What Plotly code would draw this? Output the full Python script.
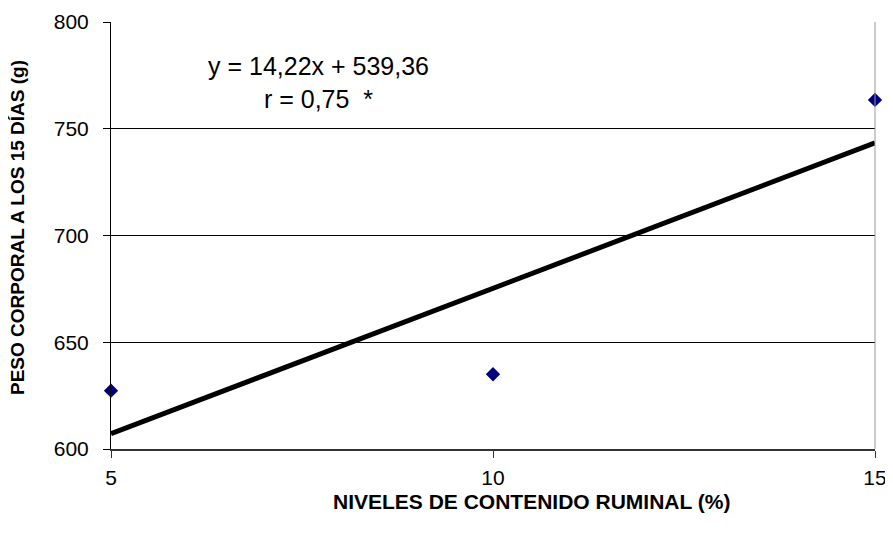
import numpy as np
import plotly.graph_objects as go

niveles = [5, 10, 15]
peso = [627.3, 635.0, 763.5]
x_ticks = [5, 10, 15]
y_ticks = [600, 650, 700, 750, 800]
equation_text = "y = 14,22x + 539,36<br>r = 0,75\u00a0\u00a0*"
x_title = "NIVELES DE CONTENIDO RUMINAL (%)"
y_title = "PESO CORPORAL A LOS 15 DÍAS (g)"

slope, intercept = np.polyfit(niveles, peso, 1)
trend_x = [min(niveles), max(niveles)]
trend_y = [slope * v + intercept for v in trend_x]

fig = go.Figure()
fig.add_trace(go.Scatter(x=trend_x, y=trend_y, mode="lines",
                         line=dict(color="black", width=5), hoverinfo="skip"))
fig.add_trace(go.Scatter(x=niveles, y=peso, mode="markers",
                         marker=dict(symbol="diamond", size=11, color="#000080"),
                         cliponaxis=False))

font = "Liberation Sans, Arial, sans-serif"
fig.update_layout(
    width=885, height=530,
    margin=dict(l=103, r=18, t=14, b=89),
    paper_bgcolor="white", plot_bgcolor="white",
    showlegend=False,
    font=dict(family=font, color="black"),
    xaxis=dict(range=[5, 15], tickvals=x_ticks, showgrid=False, zeroline=False,
               automargin=False,
               showline=True, linecolor="#333333", linewidth=2,
               ticks="outside", ticklen=7, tickcolor="#333333",
               ticklabelstandoff=2, tickfont=dict(size=21, family=font)),
    yaxis=dict(range=[600, 800], tickvals=y_ticks, showgrid=True, gridcolor="black",
               gridwidth=1, zeroline=False, showline=True, linecolor="black",
               automargin=False,
               linewidth=1, ticks="outside", ticklen=7, tickcolor="black",
               ticklabelstandoff=10, tickfont=dict(size=21, family=font)),
    shapes=[dict(type="line", xref="paper", yref="paper", x0=1, x1=1, y0=0, y1=1,
                 line=dict(color="#999999", width=1))],
    annotations=[
        dict(text=equation_text, xref="paper", yref="paper", x=0.271, y=0.858,
             showarrow=False, xanchor="center", yanchor="middle",
             font=dict(size=25, family=font)),
        dict(text="<b>" + y_title + "</b>", xref="paper", yref="paper",
             x=-0.1217, y=0.5176, textangle=-90, showarrow=False,
             xanchor="center", yanchor="middle", font=dict(size=19, family=font)),
        dict(text="<b>" + x_title + "</b>", xref="paper", yref="paper",
             x=0.551, y=-0.124, showarrow=False,
             xanchor="center", yanchor="middle", font=dict(size=21, family=font)),
    ],
)
fig.write_html("out.html")
